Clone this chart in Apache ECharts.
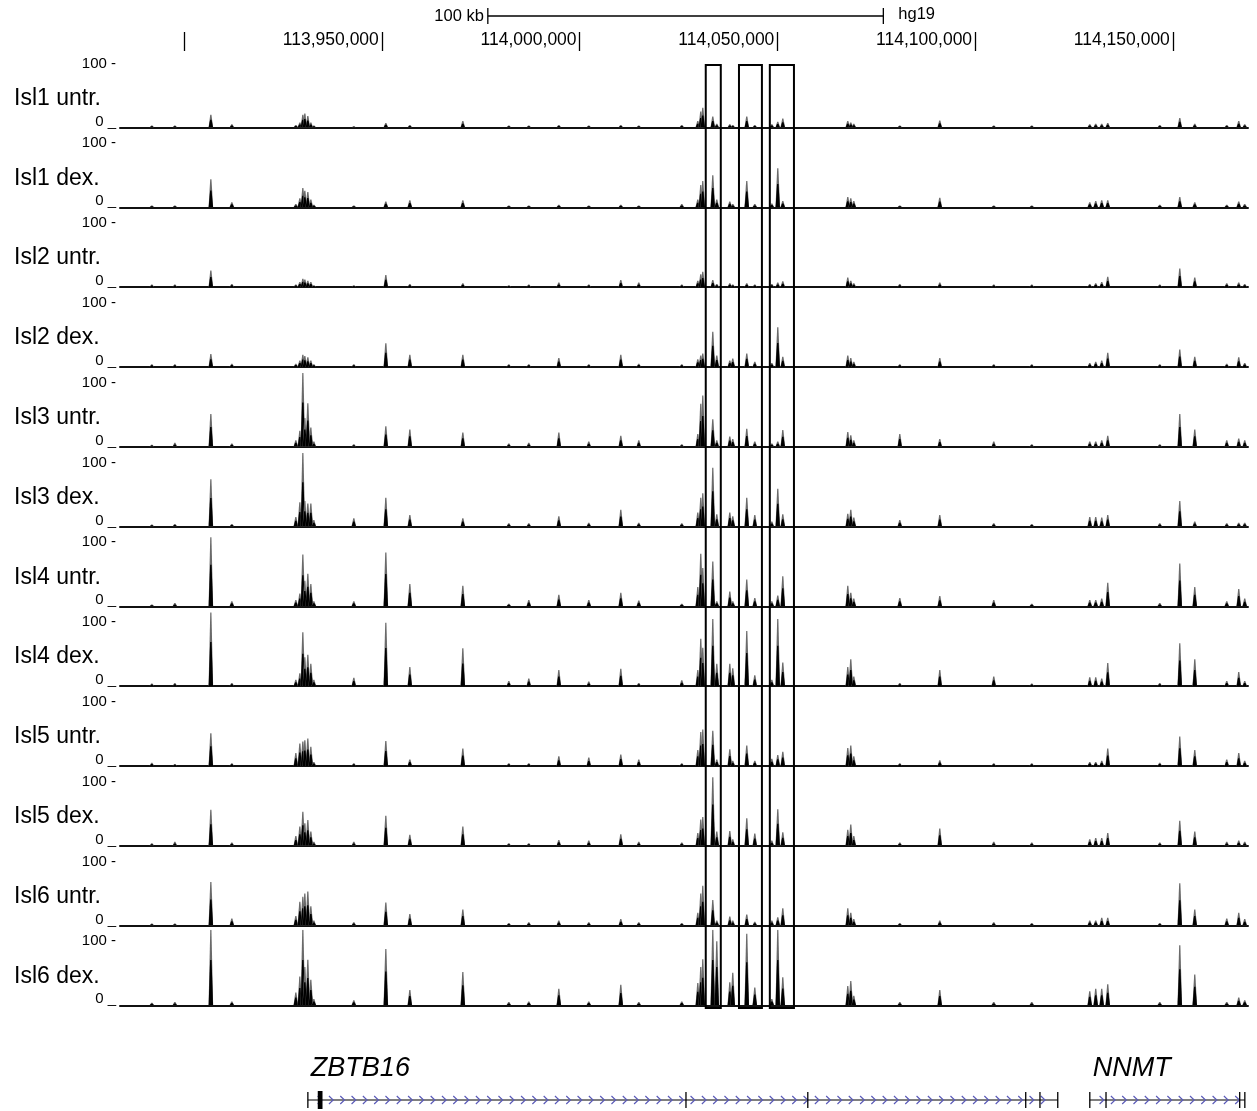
<!DOCTYPE html>
<html><head><meta charset="utf-8">
<script src="https://cdn.jsdelivr.net/npm/echarts@6/dist/echarts.min.js"></script>
<style>html,body{margin:0;padding:0;background:#fff}#chart{width:1257px;height:1111px}</style>
</head><body><div id="chart"></div>
<script>
// ---------- DATA ----------
const trackNames = ['Isl1 untr.', 'Isl1 dex.', 'Isl2 untr.', 'Isl2 dex.', 'Isl3 untr.', 'Isl3 dex.',
  'Isl4 untr.', 'Isl4 dex.', 'Isl5 untr.', 'Isl5 dex.', 'Isl6 untr.', 'Isl6 dex.'];

// genomic positions (hg19, chr11) of signal bins
const peakPositions = [113891850, 113897670, 113906770, 113912080,
  113928260, 113929270, 113930030, 113930530, 113931290, 113932050, 113932810,
  113942920, 113951010, 113957080, 113970480, 113982110, 113987160, 113994750, 114002330, 114010420, 114014970, 114025840,
  114029890, 114030640, 114031150, 114033680, 114034690, 114037980, 114038730, 114042270, 114044300, 114048600, 114050110, 114051380,
  114067810, 114068570, 114069330, 114080960, 114091070, 114104720, 114114330,
  114128990, 114130500, 114132020, 114133540, 114146690, 114151750, 114155540, 114163630, 114166660, 114168170];

const isl1Untr = [3,3,20,5, 4,8,20,22,18,8,3, 2,7,4,10,3,3,4,3,4,3,4, 10,25,31,17,6,5,4,17,4,5,9,14, 10,8,6,3,11,3,3, 5,6,6,7,4,15,6,4,10,5];
const isl1Dex  = [3,3,44,8, 5,14,30,26,24,12,4, 3,9,11,11,3,3,4,3,4,3,5, 12,35,41,50,12,9,5,41,5,6,61,10, 16,14,10,3,15,3,3, 8,10,11,11,4,16,8,4,9,5];
const isl2Untr = [4,4,26,5, 4,8,13,12,10,8,3, 3,19,5,6,3,4,7,4,11,7,4, 10,20,24,11,5,6,4,6,4,5,7,9, 15,10,6,5,7,4,4, 5,6,8,16,4,29,15,6,7,5];
const isl2Dex  = [4,4,20,5, 5,10,19,17,15,10,4, 4,37,19,19,4,4,14,4,19,5,4, 12,18,21,55,18,10,13,21,8,6,62,16, 18,14,8,4,14,4,4, 6,8,10,22,4,27,16,5,15,6];
const isl3Untr = [3,6,51,5, 10,25,115,45,68,30,8, 4,32,27,22,5,6,22,8,17,10,4, 20,67,80,43,10,16,12,28,8,5,8,26, 23,18,10,20,12,8,4, 8,8,10,17,4,51,27,10,13,10];
const isl3Dex  = [3,4,74,4, 15,38,115,40,36,36,10, 13,45,18,13,5,5,16,6,26,6,5, 22,45,52,92,19,22,16,45,18,8,59,19, 20,26,14,10,18,5,4, 15,15,14,18,5,40,8,5,6,6];
const isl4Untr = [3,5,108,8, 10,20,81,40,51,35,8, 8,84,35,32,4,10,18,10,21,9,4, 30,82,60,70,8,23,8,42,13,8,17,47, 32,21,12,13,16,10,4, 10,10,12,37,5,67,30,8,27,12];
const isl4Dex  = [4,5,115,5, 10,20,84,45,49,35,10, 13,99,30,59,8,12,25,7,27,5,9, 25,74,60,105,35,35,28,86,17,10,105,37, 30,42,15,5,25,15,4, 14,14,12,36,5,67,42,8,22,8];
const isl5Untr = [5,3,51,4, 20,35,38,40,43,30,6, 4,39,10,27,4,4,15,13,18,10,4, 25,53,57,55,10,26,8,32,8,11,17,22, 28,32,15,4,9,4,4, 6,6,8,27,5,46,25,10,20,8];
const isl5Dex  = [4,6,56,5, 15,30,53,35,40,22,6, 6,47,17,30,4,4,9,8,18,6,5, 20,41,45,107,22,23,10,43,19,8,57,21, 25,33,15,5,27,6,5, 10,12,12,20,5,39,22,6,8,6];
const isl6Untr = [3,3,68,11, 15,37,45,50,53,30,8, 5,36,18,25,4,5,8,5,10,5,4, 20,50,62,40,8,14,8,17,6,8,13,27, 27,20,10,4,8,5,4, 8,8,12,12,4,66,25,11,20,10];
const isl6Dex  = [4,5,118,6, 20,45,118,60,71,40,10, 8,88,24,52,5,6,26,6,32,5,6, 35,60,72,118,100,36,51,112,28,10,118,44, 30,38,15,5,24,5,5, 22,26,26,33,5,94,48,5,12,8];

const trackValues = [isl1Untr, isl1Dex, isl2Untr, isl2Dex, isl3Untr, isl3Dex, isl4Untr, isl4Dex, isl5Untr, isl5Dex, isl6Untr, isl6Dex];

const yTickValues = [0, 100];
const coordTickValues = [113900000, 113950000, 114000000, 114050000, 114100000, 114150000];
const coordLabelValues = [113950000, 114000000, 114050000, 114100000, 114150000];

const scaleBarStart = 113976800;
const scaleBarLength = 100000;
const scaleBarLabel = '100 kb';
const assemblyLabel = 'hg19';

const boxStarts = [114031900, 114040300, 114048100];
const boxEnds   = [114035700, 114046100, 114054200];

const geneNames  = ['ZBTB16', 'NNMT'];
const geneStarts = [113931300, 114129000];
const geneEnds   = [114120900, 114168200];
const codingBlockStarts = [113933800];
const codingBlockEnds   = [113935000];
const exonMarks = [113931300, 114026900, 114057700, 114112800, 114116400, 114120900, 114129000, 114133100, 114166900, 114168200];

// ---------- LAYOUT ----------
const X_MIN = 113883800, X_MAX = 114169000;
const LEFT = 120, WIDTH = 1128;
const FIRST_BASE = 127.5, PITCH = 79.8, TRACK_H = 75.5, Y_MAX = 118;
const FONT = "'Liberation Sans', Arial, Helvetica, sans-serif";

const grids = [], xAxes = [], yAxes = [], series = [], titles = [];

trackNames.forEach((name, i) => {
  const base = FIRST_BASE + i * PITCH;
  grids.push({ left: LEFT, width: WIDTH, top: base - TRACK_H, height: TRACK_H });
  xAxes.push({ gridIndex: i, type: 'value', min: X_MIN, max: X_MAX,
    axisLine: { show: true, lineStyle: { color: '#111', width: 2 } },
    axisTick: { show: false }, axisLabel: { show: false }, splitLine: { show: false } });
  yAxes.push({ gridIndex: i, type: 'value', min: 0, max: Y_MAX,
    axisLine: { show: false }, axisTick: { show: false }, splitLine: { show: false },
    axisLabel: { customValues: yTickValues, margin: 4,
      formatter: v => v === 100 ? '{a|100 -}' : '{b|0 _}',
      rich: {
        a: { fontSize: 15, fontFamily: FONT, color: '#000' },
        b: { fontSize: 15, fontFamily: FONT, color: '#000', padding: [0, 0, 12, 0] }
      } } });
  titles.push({ text: name, left: 14, top: base - 29 - 13, padding: 0,
    textStyle: { fontSize: 23, fontWeight: 'normal', color: '#000', fontFamily: FONT, lineHeight: 26 } });
  series.push({
    type: 'custom', xAxisIndex: i, yAxisIndex: i, clip: true,
    data: peakPositions.map((p, k) => [p, trackValues[i][k]]),
    renderItem: (params, api) => {
      const b = api.coord([api.value(0), 0]);
      const t = api.coord([api.value(0), api.value(1)]);
      const cx = b[0], by = b[1], ty = t[1], hh = by - ty;
      return { type: 'group', children: [
        { type: 'polygon', shape: { points: [[cx - 2.3, by], [cx - 0.6, ty], [cx + 0.6, ty], [cx + 2.3, by]] },
          style: { fill: '#6a6a6a' } },
        { type: 'polygon', shape: { points: [[cx - 2.2, by], [cx - 0.7, by - hh * 0.6], [cx + 0.7, by - hh * 0.6], [cx + 2.2, by]] },
          style: { fill: '#000' } }
      ] };
    }
  });
});

// top coordinate axis
const gTop = grids.length;
grids.push({ left: LEFT, width: WIDTH, top: 50, height: 1 });
xAxes.push({ gridIndex: gTop, type: 'value', position: 'top', min: X_MIN, max: X_MAX,
  axisLine: { show: false }, splitLine: { show: false },
  axisTick: { show: true, customValues: coordTickValues, length: 19, lineStyle: { color: '#000', width: 1.3 } },
  axisLabel: { customValues: coordLabelValues, formatter: v => v.toLocaleString('en-US'),
    align: 'right', padding: [0, 3, 0, 0], margin: 1, fontSize: 17.5, color: '#000', fontFamily: FONT } });
yAxes.push({ gridIndex: gTop, show: false, min: 0, max: 1 });

// scale bar
const gScale = grids.length;
grids.push({ left: LEFT, width: WIDTH, top: 8, height: 16 });
xAxes.push({ gridIndex: gScale, type: 'value', show: false, min: X_MIN, max: X_MAX });
yAxes.push({ gridIndex: gScale, type: 'value', show: false, min: 0, max: 1 });
series.push({ type: 'custom', xAxisIndex: gScale, yAxisIndex: gScale,
  data: [[scaleBarStart, scaleBarStart + scaleBarLength]],
  renderItem: (params, api) => {
    const a = api.coord([api.value(0), 0.5]);
    const b = api.coord([api.value(1), 0.5]);
    const top = api.coord([api.value(0), 1])[1];
    const bot = api.coord([api.value(0), 0])[1];
    const ls = { stroke: '#000', lineWidth: 1.3 };
    return { type: 'group', children: [
      { type: 'line', shape: { x1: a[0], y1: a[1], x2: b[0], y2: b[1] }, style: ls },
      { type: 'line', shape: { x1: a[0], y1: top, x2: a[0], y2: bot }, style: ls },
      { type: 'line', shape: { x1: b[0], y1: top, x2: b[0], y2: bot }, style: ls },
      { type: 'text', x: a[0] - 4, y: a[1], style: { text: scaleBarLabel, fill: '#000', fontSize: 16.5, fontFamily: FONT,
        align: 'right', verticalAlign: 'middle', textAlign: 'right', textVerticalAlign: 'middle' } },
      { type: 'text', x: b[0] + 15, y: a[1] - 2, style: { text: assemblyLabel, fill: '#000', fontSize: 16.5, fontFamily: FONT,
        align: 'left', verticalAlign: 'middle', textAlign: 'left', textVerticalAlign: 'middle' } }
    ] };
  } });

// highlight boxes
const gBox = grids.length;
grids.push({ left: LEFT, width: WIDTH, top: 65, height: 943 });
xAxes.push({ gridIndex: gBox, type: 'value', show: false, min: X_MIN, max: X_MAX });
yAxes.push({ gridIndex: gBox, type: 'value', show: false, min: 0, max: 1 });
series.push({ type: 'custom', xAxisIndex: gBox, yAxisIndex: gBox, z: 10,
  data: boxStarts.map((s, i) => [s, boxEnds[i]]),
  renderItem: (params, api) => {
    const p0 = api.coord([api.value(0), 1]);
    const p1 = api.coord([api.value(1), 0]);
    return { type: 'rect', shape: { x: p0[0], y: p0[1], width: p1[0] - p0[0], height: p1[1] - p0[1] },
      style: { fill: null, stroke: '#000', lineWidth: 2 } };
  } });

// gene track
const gGene = grids.length;
grids.push({ left: LEFT, width: WIDTH, top: 1090, height: 20 });
xAxes.push({ gridIndex: gGene, type: 'value', show: false, min: X_MIN, max: X_MAX });
yAxes.push({ gridIndex: gGene, type: 'value', show: false, min: 0, max: 1 });
series.push({ type: 'custom', xAxisIndex: gGene, yAxisIndex: gGene,
  data: geneStarts.map((s, i) => [s, geneEnds[i], i]),
  renderItem: (params, api) => {
    const a = api.coord([api.value(0), 0.5]);
    const b = api.coord([api.value(1), 0.5]);
    const y = a[1];
    const ch = [{ type: 'line', shape: { x1: a[0], y1: y, x2: b[0], y2: y }, style: { stroke: '#000', lineWidth: 1.2 } }];
    for (let x = a[0] + 12; x < b[0] - 4; x += 11.3) {
      ch.push({ type: 'polyline', shape: { points: [[x - 2.2, y - 4], [x + 2, y], [x - 2.2, y + 4]] },
        style: { stroke: '#5a5ab8', lineWidth: 1.2, fill: null } });
    }
    ch.push({ type: 'text', x: a[0] + 3, y: y - 32, style: { text: geneNames[api.value(2)], fill: '#000',
      fontSize: 27, fontStyle: 'italic', fontFamily: FONT, align: 'left', verticalAlign: 'middle',
      textAlign: 'left', textVerticalAlign: 'middle' } });
    return { type: 'group', children: ch };
  } });
series.push({ type: 'custom', xAxisIndex: gGene, yAxisIndex: gGene,
  data: exonMarks.map(p => [p]),
  renderItem: (params, api) => {
    const c = api.coord([api.value(0), 0.5]);
    return { type: 'line', shape: { x1: c[0], y1: c[1] - 8, x2: c[0], y2: c[1] + 8 }, style: { stroke: '#000', lineWidth: 1.3 } };
  } });
series.push({ type: 'custom', xAxisIndex: gGene, yAxisIndex: gGene,
  data: codingBlockStarts.map((s, i) => [s, codingBlockEnds[i]]),
  renderItem: (params, api) => {
    const p0 = api.coord([api.value(0), 0.5]);
    const p1 = api.coord([api.value(1), 0.5]);
    return { type: 'rect', shape: { x: p0[0], y: p0[1] - 9, width: Math.max(3, p1[0] - p0[0]), height: 18 }, style: { fill: '#000' } };
  } });

const chart = echarts.init(document.getElementById('chart'), null, { renderer: 'canvas' });
chart.setOption({
  animation: false,
  backgroundColor: '#fff',
  title: titles,
  grid: grids,
  xAxis: xAxes,
  yAxis: yAxes,
  series: series
});
</script>
</body></html>
